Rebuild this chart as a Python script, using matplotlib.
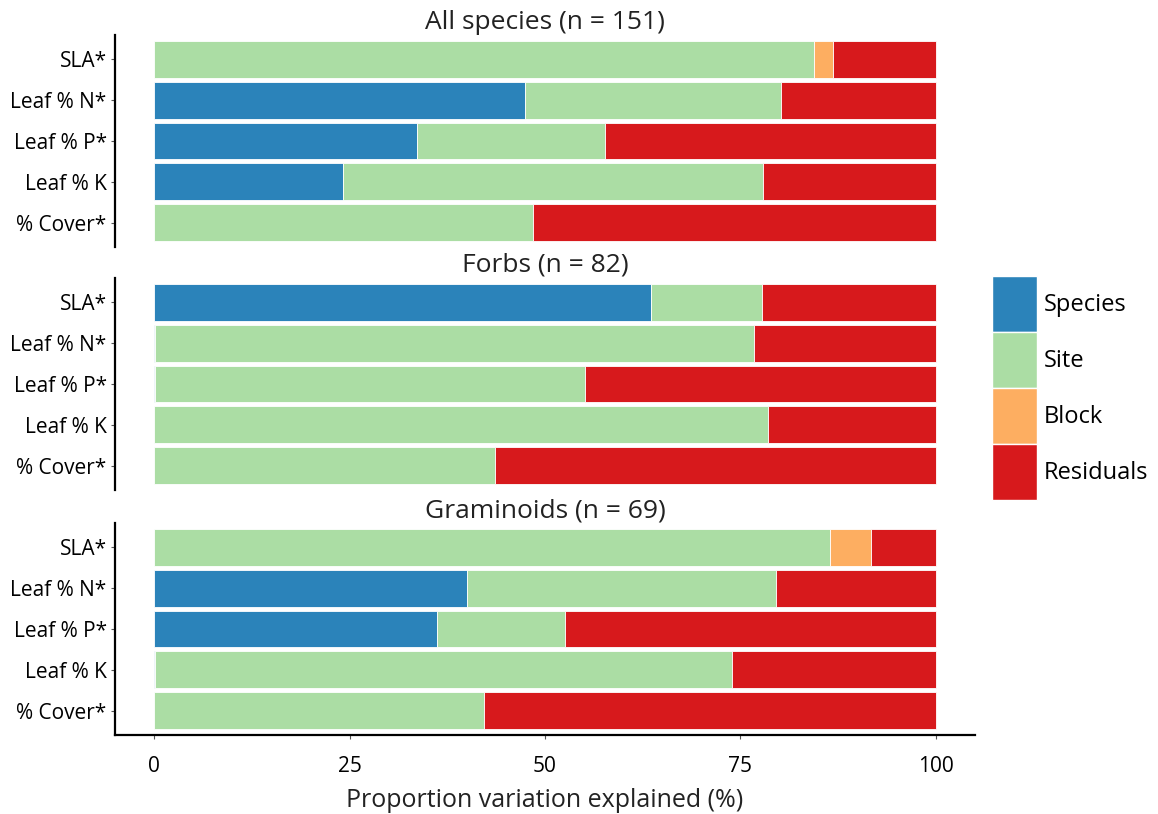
import matplotlib
matplotlib.use("Agg")
import matplotlib.pyplot as plt
from matplotlib.patches import Patch
import numpy as np

plt.rcParams["font.family"] = ["Open Sans", "DejaVu Sans"]

traits = ["SLA*", "Leaf % N*", "Leaf % P*", "Leaf % K", "% Cover*"]
components = ["Species", "Site", "Block", "Residuals"]
colors = ["#2B83BA", "#ABDDA4", "#FDAE61", "#D7191C"]

panel_titles = ["All species (n = 151)", "Forbs (n = 82)", "Graminoids (n = 69)"]

# percent variance per trait (rows follow `traits`)
all_species = {
    "Species":   [0.0, 47.5, 33.6, 24.1, 0.0],
    "Site":      [84.4, 32.7, 24.1, 53.8, 48.5],
    "Block":     [2.4, 0.0, 0.0, 0.0, 0.0],
    "Residuals": [13.2, 19.8, 42.3, 22.1, 51.5],
}
forbs = {
    "Species":   [63.6, 0.1, 0.1, 0.0, 0.0],
    "Site":      [14.1, 76.6, 55.0, 78.5, 43.6],
    "Block":     [0.0, 0.0, 0.0, 0.0, 0.0],
    "Residuals": [22.3, 23.3, 44.9, 21.5, 56.4],
}
graminoids = {
    "Species":   [0.0, 40.0, 36.2, 0.1, 0.0],
    "Site":      [86.4, 39.6, 16.4, 73.8, 42.2],
    "Block":     [5.3, 0.0, 0.0, 0.0, 0.0],
    "Residuals": [8.3, 20.4, 47.4, 26.1, 57.8],
}
panels = [all_species, forbs, graminoids]

W, H = 1158, 814
fig = plt.figure(figsize=(W / 100, H / 100), dpi=100)

left, right = 115, 975
tops = [35, 278, 523]
ph = 212
axes = []
for top in tops:
    ax = fig.add_axes([left / W, 1 - (top + ph) / H, (right - left) / W, ph / H])
    axes.append(ax)

y = np.arange(len(traits))
for i, (ax, data, title) in enumerate(zip(axes, panels, panel_titles)):
    cum = np.zeros(len(traits))
    for comp, col in zip(components, colors):
        vals = np.array(data[comp])
        ax.barh(y, vals, left=cum, height=0.9, color=col,
                edgecolor="white", linewidth=0.6)
        cum += vals
    ax.set_ylim(len(traits) - 0.4, -0.6)
    ax.set_xlim(-5, 105)
    ax.set_yticks(y)
    ax.set_yticklabels(traits, fontsize=15, color="black")
    ax.tick_params(axis="y", length=3, color="#555555", pad=3)
    ax.set_title(title, fontsize=19, pad=2, color="#222222")
    for s in ["top", "right"]:
        ax.spines[s].set_visible(False)
    ax.spines["left"].set_linewidth(1.6)
    if i < 2:
        ax.spines["bottom"].set_visible(False)
        ax.set_xticks([])
    else:
        ax.spines["bottom"].set_linewidth(1.6)
        ax.set_xticks([0, 25, 50, 75, 100])
        ax.tick_params(axis="x", length=3, color="#555555", labelsize=15, pad=12)
        ax.set_xlabel("Proportion variation explained (%)", fontsize=18,
                      labelpad=8, color="#222222")

# legend boxes: height = fontsize * (0.65 * handleheight + 0.245)
handles = [Patch(facecolor=c, edgecolor="white", linewidth=1) for c in colors]
fig.legend(handles, components, loc="center left",
           bbox_to_anchor=(992 / W, 1 - 388 / H), frameon=False,
           fontsize=17, handlelength=1.9, handleheight=3.27,
           labelspacing=0.0, handletextpad=0.3, borderpad=0, borderaxespad=0)

fig.savefig("out.png", dpi=100)
